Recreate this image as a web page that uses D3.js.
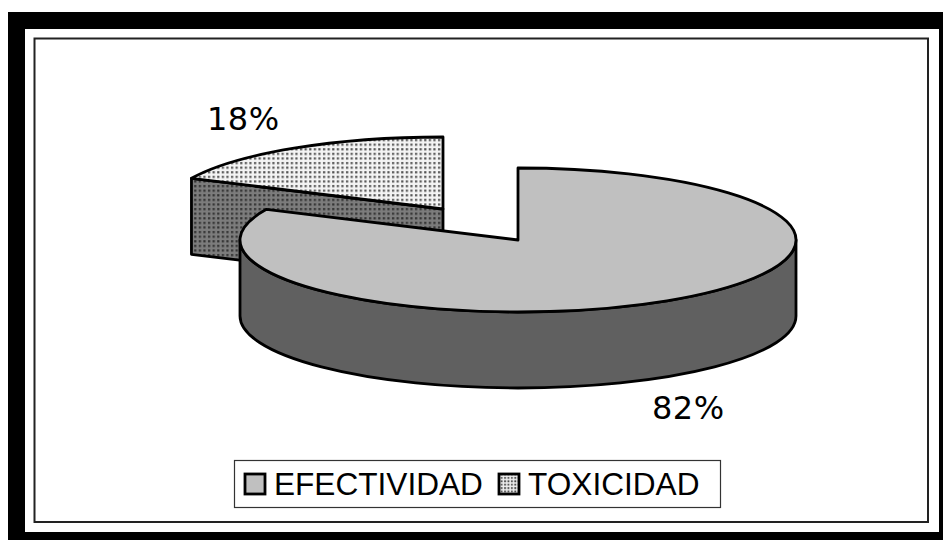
<!DOCTYPE html>
<html>
<head>
<meta charset="utf-8">
<script src="https://cdn.jsdelivr.net/npm/d3@7/dist/d3.min.js"></script>
<style>
   html, body { margin: 0; padding: 0; background: #fff; }
   svg { display: block; }
</style>
</head>
<body>
<div class="render"></div>
<script>
'use strict';

var categories = ['EFECTIVIDAD', 'TOXICIDAD'];
var values = [82, 18];
var labels = ['82%', '18%'];

var w = 943;
var h = 540;
var cx = 518, cy = 240, rx = 278, ry = 72, depth = 76;
var explode = { dx: -75, dy: -31 };

var svg = d3.select('.render').append('svg').attr('width', w).attr('height', h);
var defs = svg.append('defs');

function dots(id, bg, ink, step, size) {
   var p = defs.append('pattern').attr('id', id).attr('patternUnits', 'userSpaceOnUse')
      .attr('width', step).attr('height', step);
   p.append('rect').attr('width', step).attr('height', step).attr('fill', bg);
   p.append('rect').attr('x', 1).attr('y', 1).attr('width', size).attr('height', size).attr('fill', ink);
}
dots('dotsLight', '#f4f4f4', '#555', 4.6, 2.2);
dots('dotsDark', '#7c7c7c', '#333', 4.6, 2.2);
dots('dotsSwatch', '#eee', '#444', 3.4, 1.8);

// black border, open on the top right like the scanned page
svg.append('rect').attr('x', 8).attr('y', 12).attr('width', 935).attr('height', 528).attr('fill', '#000');
svg.append('rect').attr('x', 25).attr('y', 29).attr('width', 914).attr('height', 503).attr('fill', '#fff');
svg.append('rect').attr('x', 34.5).attr('y', 38.5).attr('width', 893.5).attr('height', 483.5)
   .attr('fill', 'none').attr('stroke', '#222').attr('stroke-width', 2);

var arcs = d3.pie().sort(null)(values);

function pt(a, ox, oy) {
   return [cx + ox + rx * Math.sin(a), cy + oy - ry * Math.cos(a)];
}

// flat top of a slice, elliptical
function topPath(d, ox, oy) {
   var s = pt(d.startAngle, ox, oy), e = pt(d.endAngle, ox, oy);
   var big = d.endAngle - d.startAngle > Math.PI ? 1 : 0;
   return 'M' + (cx + ox) + ',' + (cy + oy) + 'L' + s + 'A' + rx + ',' + ry + ' 0 ' + big + ' 1 ' + e + 'Z';
}

// front rim of the big slice, from far right round to far left
function rimPath(a0, a1) {
   var s = pt(a0, 0, 0), e = pt(a1, 0, 0);
   return 'M' + s + 'A' + rx + ',' + ry + ' 0 0 1 ' + e +
      'L' + [e[0], e[1] + depth] + 'A' + rx + ',' + ry + ' 0 0 0 ' + [s[0], s[1] + depth] + 'Z';
}

// cut face of the exploded slice
function cutPath(d, ox, oy) {
   var e = pt(d.startAngle, ox, oy);
   var c = [cx + ox, cy + oy];
   return 'M' + e + 'L' + c + 'L' + [c[0], c[1] + depth] + 'L' + [e[0], e[1] + depth] + 'Z';
}

var pieG = svg.append('g').attr('stroke', '#000').attr('stroke-width', 2.8).attr('stroke-linejoin', 'round');

pieG.append('path').attr('d', cutPath(arcs[1], explode.dx, explode.dy)).attr('fill', 'url(#dotsDark)');
pieG.append('path').attr('d', topPath(arcs[1], explode.dx, explode.dy)).attr('fill', 'url(#dotsLight)');
pieG.append('path').attr('d', rimPath(Math.PI / 2, Math.PI * 1.5)).attr('fill', '#606060');
pieG.append('path').attr('d', topPath(arcs[0], 0, 0)).attr('fill', '#c0c0c0');

svg.append('text').text(labels[1]).attr('x', 207).attr('y', 130)
   .style('font-family', '"DejaVu Sans"').style('font-size', '32px').style('letter-spacing', '0.5px').attr('fill', '#000');
svg.append('text').text(labels[0]).attr('x', 652).attr('y', 419)
   .style('font-family', '"DejaVu Sans"').style('font-size', '32px').style('letter-spacing', '0.5px').attr('fill', '#000');

// legend
svg.append('rect').attr('x', 234.5).attr('y', 460.5).attr('width', 486).attr('height', 47)
   .attr('fill', '#fff').attr('stroke', '#333').attr('stroke-width', 1.2);

var legendX = d3.scaleOrdinal().domain(categories).range([245, 499]);
var legendFill = d3.scaleOrdinal().domain(categories).range(['#c0c0c0', 'url(#dotsSwatch)']);

var item = svg.selectAll('g.legend').data(categories).enter().append('g').attr('class', 'legend');
item.append('rect').attr('x', function (d) { return legendX(d); }).attr('y', 474)
   .attr('width', 20).attr('height', 20).attr('fill', function (d) { return legendFill(d); })
   .attr('stroke', '#000').attr('stroke-width', 2.8);
item.append('text').text(function (d) { return d; })
   .attr('x', function (d) { return legendX(d) + 29; }).attr('y', 495)
   .style('font-family', '"Liberation Sans"').style('font-size', '31.6px').attr('fill', '#000');
</script>
</body>
</html>
